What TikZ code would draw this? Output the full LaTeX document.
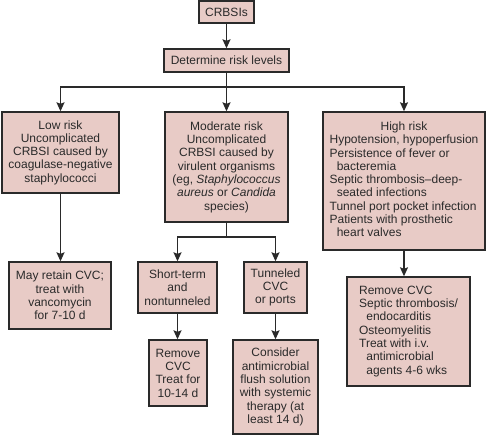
\documentclass[tikz,border=0pt]{standalone}
\usepackage{fontspec}
\setmainfont{Liberation Sans}
\usetikzlibrary{arrows.meta}
\definecolor{boxfill}{HTML}{E8CBC6}
\definecolor{linecol}{HTML}{2A2A2A}
\tikzset{
  fbox/.style={draw=linecol, fill=boxfill, line width=1.4pt, inner sep=0pt, align=center,
    font=\fontsize{12}{13.3}\selectfont, text=linecol},
  conn/.style={draw=linecol, line width=1.4pt},
  arr/.style={conn, -{Stealth[length=9pt,width=8pt,inset=1.5pt]}}
}
\newcommand{\ind}{\hspace*{0.6em}}
\begin{document}
\begin{tikzpicture}[x=1pt,y=-1pt]
\useasboundingbox (0,0) rectangle (486,436);
\node[fbox, minimum width=55pt, minimum height=22pt] (crbsi) at (226.5,12) {CRBSIs};
\node[fbox, minimum width=125pt, minimum height=23pt] (det) at (226.5,60.5) {Determine risk levels};
\node[fbox, minimum width=117pt, minimum height=81pt] (low) at (60.5,152.5)
  {Low risk\\Uncomplicated\\CRBSI caused by\\coagulase-negative\\staphylococci};
\node[fbox, minimum width=123pt, minimum height=110pt] (mod) at (226.5,167)
  {Moderate risk\\Uncomplicated\\CRBSI caused by\\virulent organisms\\(eg, \textit{Staphylococcus}\\\textit{aureus} or \textit{Candida}\\species)};
\node[fbox, minimum width=162pt, minimum height=138pt] (high) at (404,181)
  {\begin{tabular}{@{}l@{}}\multicolumn{1}{@{}c@{}}{High risk}\\Hypotension, hypoperfusion\\Persistence of fever or\\\ind bacteremia\\Septic thrombosis--deep-\\\ind seated infections\\Tunnel port pocket infection\\Patients with prosthetic\\\ind heart valves\end{tabular}};
\node[fbox, minimum width=102pt, minimum height=67pt] (may) at (60,295.5)
  {May retain CVC;\\treat with\\vancomycin\\for 7-10 d};
\node[fbox, minimum width=79pt, minimum height=51pt] (short) at (177.5,287.5)
  {Short-term\\and\\nontunneled};
\node[fbox, minimum width=63pt, minimum height=51pt] (tun) at (275.5,287.5)
  {Tunneled\\CVC\\or ports};
\node[fbox, minimum width=58pt, minimum height=66pt] (rem) at (178,373)
  {Remove\\CVC\\Treat for\\10-14 d};
\node[fbox, minimum width=85pt, minimum height=94pt] (cons) at (275.5,387)
  {Consider\\antimicrobial\\flush solution\\with systemic\\therapy (at\\least 14 d)};
\node[fbox, minimum width=123pt, minimum height=109pt] (hrem) at (408.5,331.5)
  {\begin{tabular}{@{}l@{}}Remove CVC\\Septic thrombosis/\\\ind endocarditis\\Osteomyelitis\\Treat with i.v.\\\ind antimicrobial\\\ind agents 4-6 wks\end{tabular}};
\coordinate (j1) at (226.5,87);
\coordinate (j2) at (226.5,237);
\draw[arr] (crbsi) -- (det);
\draw[conn] (det) -- (j1);
\draw[arr] (j1) -| (low.north);
\draw[arr] (j1) -- (mod.north);
\draw[arr] (j1) -| (high.north);
\draw[arr] (low.south) -- (low.south |- may.north);
\draw[conn] (mod.south) -- (j2);
\draw[arr] (j2) -| (short.north);
\draw[arr] (j2) -| (tun.north);
\draw[arr] (short.south) -- (short.south |- rem.north);
\draw[arr] (tun.south) -- (tun.south |- cons.north);
\draw[arr] (high.south) -- (high.south |- hrem.north);
\end{tikzpicture}
\end{document}
